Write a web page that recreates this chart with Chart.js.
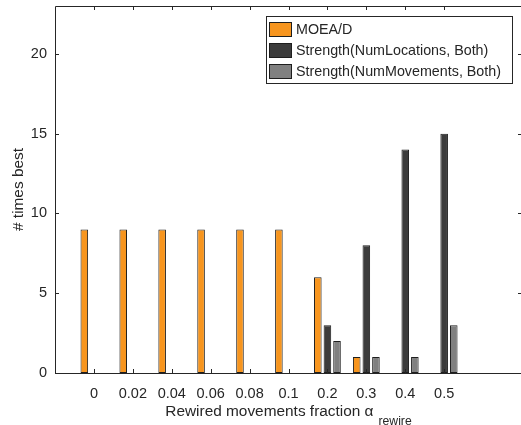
<!DOCTYPE html>
<html>
<head>
<meta charset="utf-8">
<script src="https://cdn.jsdelivr.net/npm/chart.js@4.4.0/dist/chart.umd.min.js"></script>
<style>
html, body { margin: 0; padding: 0; background: #fff; overflow: hidden; }
</style>
</head>
<body>
<canvas id="barChart" width="525" height="425"></canvas>
<script>
var categories = ['0', '0.02', '0.04', '0.06', '0.08', '0.1', '0.2', '0.3', '0.4', '0.5'];
var moead = [9, 9, 9, 9, 9, 9, 6, 1, 0, 0];
var numLocations = [0, 0, 0, 0, 0, 0, 3, 8, 14, 15];
var numMovements = [0, 0, 0, 0, 0, 0, 2, 1, 1, 3];
var seriesNames = ['MOEA/D', 'Strength(NumLocations, Both)', 'Strength(NumMovements, Both)'];
var yTicks = [0, 5, 10, 15, 20];

var fillColors = ['#f7951e', '#3c3c3c', '#808080'];
var edge = '#1e1e1e';
var ink = '#262626';
var font = '"Liberation Sans", Arial, sans-serif';

function toPoints(arr) {
    return arr.map(function (v, i) { return { x: i + 1, y: v }; });
}

// axes box with inward ticks, MATLAB style
var axesBox = {
    id: 'axesBox',
    afterDraw: function (chart) {
        var ctx = chart.ctx, a = chart.chartArea;
        var xs = chart.scales.x, ys = chart.scales.y;
        ctx.save();
        ctx.strokeStyle = ink;
        ctx.lineWidth = 1;
        ctx.beginPath();
        ctx.rect(a.left + 0.5, a.top + 0.5, a.right - a.left, a.bottom - a.top);
        var i, p;
        for (i = 0; i < categories.length; i++) {
            p = Math.round(xs.getPixelForValue(i + 1)) + 0.5;
            ctx.moveTo(p, a.bottom); ctx.lineTo(p, a.bottom - 4);
            ctx.moveTo(p, a.top); ctx.lineTo(p, a.top + 4);
        }
        for (i = 0; i < yTicks.length; i++) {
            p = Math.round(ys.getPixelForValue(yTicks[i])) + 0.5;
            ctx.moveTo(a.left, p); ctx.lineTo(a.left + 4, p);
            ctx.moveTo(a.right, p); ctx.lineTo(a.right - 4, p);
        }
        ctx.stroke();

        // x title with subscript
        ctx.fillStyle = ink;
        ctx.textBaseline = 'alphabetic';
        var main = 'Rewired movements fraction \u03b1';
        ctx.font = '12.2px ' + font;
        var subW = ctx.measureText('rewire').width;
        ctx.font = '15.4px ' + font;
        var mainW = ctx.measureText(main).width;
        var cx = (a.left + a.right) / 2;
        var x0 = cx - (mainW + 5 + subW) / 2;
        ctx.fillText(main, x0, 416);
        ctx.font = '12.2px ' + font;
        ctx.fillText('rewire', x0 + mainW + 5, 425);

        // legend inside the axes
        var lx = 266, ly = 16, lw = 246, lh = 67;
        ctx.fillStyle = '#fff';
        ctx.fillRect(lx, ly, lw, lh);
        ctx.strokeStyle = ink;
        ctx.strokeRect(lx + 0.5, ly + 0.5, lw, lh);
        ctx.font = '14.3px ' + font;
        ctx.textBaseline = 'middle';
        for (i = 0; i < seriesNames.length; i++) {
            var cy = 29.5 + i * 21;
            ctx.fillStyle = fillColors[i];
            ctx.fillRect(269.5, cy - 7, 22, 14);
            ctx.strokeStyle = edge;
            ctx.strokeRect(269.5, cy - 7, 22, 14);
            ctx.fillStyle = ink;
            ctx.fillText(seriesNames[i], 296, cy + 1);
        }
        ctx.restore();
    }
};

var ctx = document.getElementById('barChart');
var myChart = new Chart(ctx, {
    type: 'bar',
    data: {
        datasets: [
            { label: seriesNames[0], data: toPoints(moead), backgroundColor: fillColors[0] },
            { label: seriesNames[1], data: toPoints(numLocations), backgroundColor: fillColors[1] },
            { label: seriesNames[2], data: toPoints(numMovements), backgroundColor: fillColors[2] }
        ]
    },
    options: {
        responsive: false,
        animation: false,
        layout: { padding: { top: 6, right: 3, left: 0, bottom: 0 } },
        datasets: {
            bar: {
                categoryPercentage: 0.74,
                barPercentage: 0.79,
                borderWidth: function (c) { return c.raw && c.raw.y > 0 ? 1 : 0; },
                borderColor: edge,
                borderSkipped: false
            }
        },
        plugins: {
            legend: { display: false },
            tooltip: { enabled: false }
        },
        scales: {
            x: {
                type: 'linear',
                min: 0,
                max: 12,
                offset: false,
                grid: { display: false, drawTicks: false },
                border: { display: false },
                afterBuildTicks: function (scale) {
                    scale.ticks = categories.map(function (c, i) { return { value: i + 1 }; });
                },
                afterFit: function (scale) {
                    scale.height = 52;
                    scale.paddingLeft = 0;
                    scale.paddingRight = 0;
                },
                ticks: {
                    autoSkip: false,
                    maxRotation: 0,
                    padding: 12,
                    color: ink,
                    font: { family: font, size: 14.5 },
                    callback: function (v) { return categories[v - 1]; }
                }
            },
            y: {
                min: 0,
                max: 23,
                grid: { display: false, drawTicks: false },
                border: { display: false },
                afterBuildTicks: function (scale) {
                    scale.ticks = yTicks.map(function (v) { return { value: v }; });
                },
                afterFit: function (scale) {
                    scale.width = 55;
                    scale.paddingTop = 0;
                    scale.paddingBottom = 0;
                },
                ticks: {
                    padding: 8,
                    color: ink,
                    font: { family: font, size: 14.5 }
                },
                title: {
                    display: true,
                    text: '# times best',
                    color: ink,
                    font: { family: font, size: 15.4 },
                    padding: { top: 10, bottom: 0 }
                }
            }
        }
    },
    plugins: [axesBox]
});
</script>
</body>
</html>
